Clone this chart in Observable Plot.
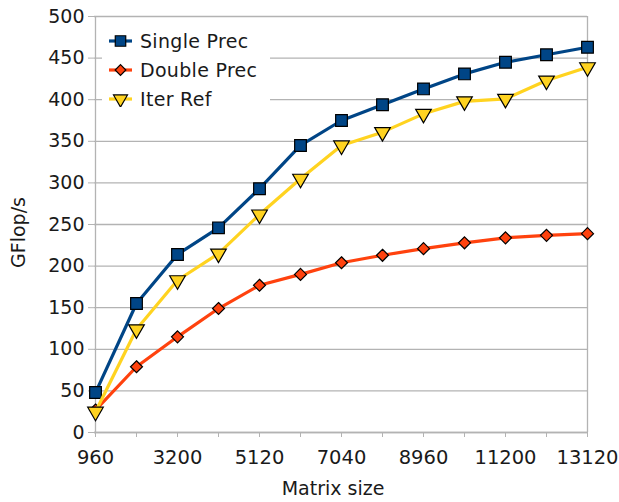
<!DOCTYPE html>
<html>
<head>
<meta charset="utf-8">
<script src="https://cdn.jsdelivr.net/npm/d3@7"></script>
<script src="https://cdn.jsdelivr.net/npm/@observablehq/plot@0.6"></script>
<style>
  body { margin: 0; background: #fff; }
  #wrap { position: relative; width: 619px; height: 502px; font-family: "DejaVu Sans", sans-serif; }
  #legend { position: absolute; left: 102px; top: 26px; width: 168px; height: 86px; background: #fff; }
  .row { position: absolute; left: 0; height: 29px; display: flex; align-items: center; font-size: 19px; color: #1a1a1a; white-space: nowrap; letter-spacing: 0.3px; }
  .row svg { margin-left: 6px; margin-right: 7px; }
</style>
</head>
<body>
<div id="wrap"></div>
<script>
const sizes = ["960","2080","3200","4160","5120","6080","7040","8000","8960","10080","11200","12160","13120"];
const singlePrec = [48, 155, 214, 246, 293, 345, 375, 394, 413, 431, 445, 454, 463];
const doublePrec = [27, 79, 115, 149, 177, 190, 204, 213, 221, 228, 234, 237, 239];
const iterRef    = [25, 124, 183, 215, 262, 305, 345, 361, 383, 398, 401, 423, 439];
const yTicks = [0, 50, 100, 150, 200, 250, 300, 350, 400, 450, 500];

const series = [
  {name: "Single Prec", values: singlePrec, color: "#004586", symbol: "square", r: 6.6, rotate: 0},
  {name: "Double Prec", values: doublePrec, color: "#ff420e", symbol: "diamond2", r: 5.4, rotate: 0},
  {name: "Iter Ref", values: iterRef, color: "#ffd320", symbol: "triangle", r: 5.8, rotate: 180}
];

const marks = [
  Plot.gridY(yTicks, {stroke: "#b3b3b3", strokeOpacity: 1, strokeWidth: 1.3}),
  Plot.ruleX([sizes[sizes.length - 1]], {stroke: "#b3b3b3", strokeWidth: 1.3}),
  Plot.axisY(yTicks, {tickSize: 6, stroke: "#b3b3b3", fontSize: 19, tickPadding: 4, label: null, fill: "#1a1a1a"}),
  Plot.axisX(sizes, {tickSize: 5, stroke: "#b3b3b3", fontSize: 19.5, tickPadding: 13, label: null, fill: "#1a1a1a",
    tickFormat: (d) => (sizes.indexOf(d) % 2 === 0 ? d : "")}),
  Plot.ruleY([0], {stroke: "#b3b3b3", strokeWidth: 1.3}),
  Plot.ruleX([sizes[0]], {stroke: "#b3b3b3", strokeWidth: 1.3})
];
for (const s of series) {
  const data = sizes.map((x, i) => ({x, y: s.values[i]}));
  marks.push(Plot.line(data, {x: "x", y: "y", stroke: s.color, strokeWidth: 3.2}));
  marks.push(Plot.dot(data, {x: "x", y: "y", symbol: () => s.symbol, r: s.r, rotate: s.rotate, fill: s.color, stroke: "#000", strokeWidth: 1.2}));
}
marks.push(Plot.text(["Matrix size"], {frameAnchor: "bottom", dy: 62, fontSize: 19, fill: "#1a1a1a", textAnchor: "middle", dx: -8, letterSpacing: "0.3px"}));
marks.push(Plot.text(["GFlop/s"], {frameAnchor: "left", dx: -76, dy: 8, rotate: -90, fontSize: 19, fill: "#1a1a1a", textAnchor: "middle", letterSpacing: "1.8px"}));

const chart = Plot.plot({
  width: 619, height: 502,
  marginLeft: 94, marginRight: 32, marginTop: 16, marginBottom: 70,
  style: {fontFamily: "DejaVu Sans, sans-serif", background: "#fff"},
  x: {type: "point", domain: sizes, padding: 0},
  y: {domain: [0, 500]},
  marks
});
const wrap = document.getElementById("wrap");
wrap.appendChild(chart);

const legend = document.createElement("div");
legend.id = "legend";
series.forEach((s, i) => {
  const row = document.createElement("div");
  row.className = "row";
  row.style.top = (i * 29) + "px";
  const sv = d3.create("svg").attr("width", 25).attr("height", 16);
  sv.append("line").attr("x1", 1).attr("x2", 24).attr("y1", 8).attr("y2", 8).attr("stroke", s.color).attr("stroke-width", 3.2);
  const sym = s.symbol === "square" ? d3.symbolSquare : s.symbol === "diamond2" ? d3.symbolDiamond2 : d3.symbolTriangle;
  sv.append("path").attr("d", d3.symbol(sym, s.r * s.r * Math.PI * 0.8)()).attr("transform", `translate(12.5,8) rotate(${s.rotate})`)
    .attr("fill", s.color).attr("stroke", "#000").attr("stroke-width", 1.2);
  row.appendChild(sv.node());
  const t = document.createElement("span");
  t.textContent = s.name;
  row.appendChild(t);
  legend.appendChild(row);
});
wrap.appendChild(legend);
</script>
</body>
</html>
